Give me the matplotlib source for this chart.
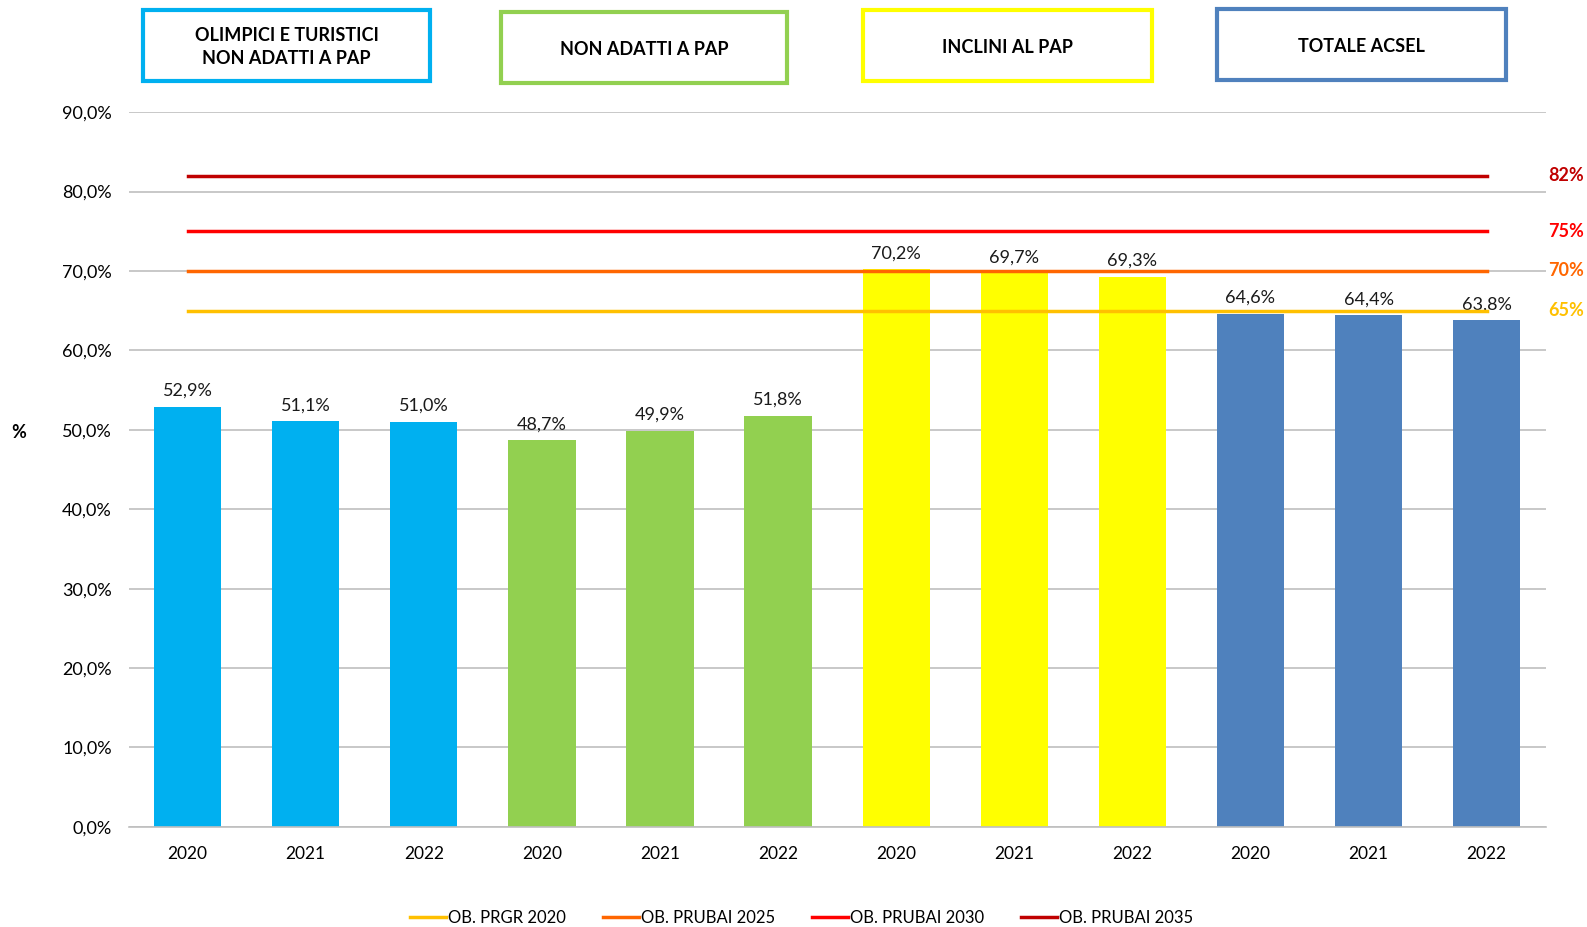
import matplotlib.pyplot as plt
from matplotlib.patches import Rectangle

plt.rcParams['font.family'] = ['Lato', 'DejaVu Sans']

years = ["2020", "2021", "2022"] * 4
values = [52.9, 51.1, 51.0, 48.7, 49.9, 51.8, 70.2, 69.7, 69.3, 64.6, 64.4, 63.8]
group_names = ["OLIMPICI E TURISTICI\nNON ADATTI A PAP", "NON ADATTI A PAP",
               "INCLINI AL PAP", "TOTALE ACSEL"]
group_colors = ["#00B0F0", "#92D050", "#FFFF00", "#4F81BD"]
target_names = ["OB. PRGR 2020", "OB. PRUBAI 2025", "OB. PRUBAI 2030", "OB. PRUBAI 2035"]
target_values = [65, 70, 75, 82]
target_colors = ["#FFC000", "#FF6600", "#FF0000", "#C00000"]

fig = plt.figure(figsize=(15.87, 9.27), dpi=100)
ax = fig.add_axes([0.081, 0.108, 0.893, 0.771])

x = list(range(len(values)))
bar_colors = [c for c in group_colors for _ in range(3)]
ax.bar(x, values, width=0.57, color=bar_colors, zorder=2)
for xi, v in zip(x, values):
    ax.text(xi, v + 1.0, f"{v:.1f}%".replace(".", ","), ha="center", va="bottom",
            fontsize=13, color="#1a1a1a")

for name, val, col in zip(target_names, target_values, target_colors):
    ax.plot([x[0], x[-1]], [val, val], color=col, lw=2.5, label=name, zorder=3)
    ax.text(11.67, val, f"{val}%", color=col, fontsize=13, fontweight="bold",
            ha="center", va="center", clip_on=False)

ax.set_xlim(-0.5, 11.5)
ax.set_ylim(0, 90)
ax.set_yticks(range(0, 91, 10))
ax.set_yticklabels([f"{t:.1f}%".replace(".", ",") for t in range(0, 91, 10)], fontsize=13)
ax.set_xticks(x)
ax.set_xticklabels(years, fontsize=12.5)
ax.tick_params(length=0, pad=14)
ax.tick_params(axis="y", pad=12)
ax.yaxis.grid(True, color="#BFBFBF", lw=1.2, zorder=0)
ax.set_axisbelow(True)
for s in ["top", "right", "left"]:
    ax.spines[s].set_visible(False)
ax.spines["bottom"].set_color("#BFBFBF")
ax.spines["bottom"].set_linewidth(1.2)

fig.text(0.007, 0.533, "%", fontsize=13, fontweight="bold", va="center")

# group boxes
boxes = [(0.090, 0.913, 0.181, 0.076), (0.316, 0.911, 0.180, 0.076),
         (0.544, 0.913, 0.182, 0.076), (0.767, 0.914, 0.182, 0.076)]
for (bx, by, bw, bh), name, col in zip(boxes, group_names, group_colors):
    fig.patches.append(Rectangle((bx, by), bw, bh, transform=fig.transFigure,
                                 fill=False, edgecolor=col, lw=3))
    fig.text(bx + bw / 2, by + bh / 2 - 0.002, name, ha="center", va="center",
             fontsize=13, fontweight="bold", linespacing=1.45)

fig.legend(loc="center", bbox_to_anchor=(0.505, 0.010), ncol=4, frameon=False,
           fontsize=12, handlelength=2.2, handletextpad=0.1, columnspacing=2.2)

fig.savefig("out.png")
